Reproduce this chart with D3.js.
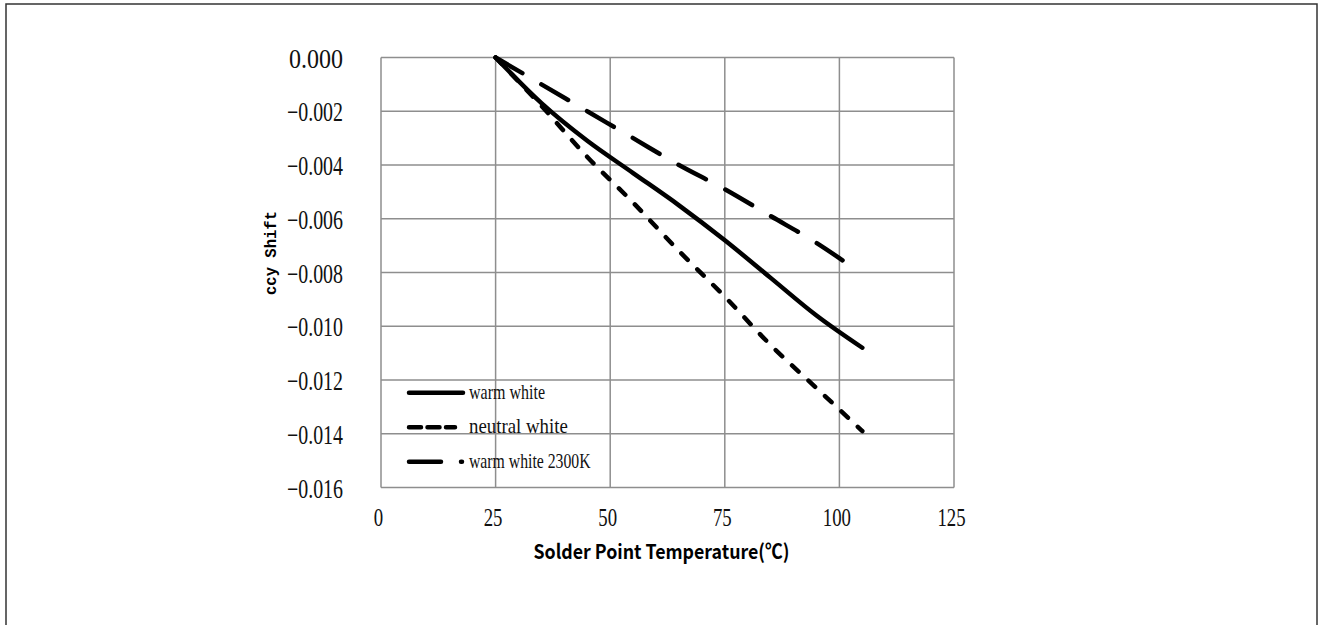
<!DOCTYPE html>
<html>
<head>
<meta charset="utf-8">
<script src="https://cdn.jsdelivr.net/npm/d3@7"></script>
<style>
  html, body { margin: 0; padding: 0; background: #fff; }
</style>
</head>
<body>
<div id="chart"></div>
<script>
// data
const xTicks = [0, 25, 50, 75, 100, 125]
const yTicks = [0, -0.002, -0.004, -0.006, -0.008, -0.010, -0.012, -0.014, -0.016]

const temps = [25, 35, 45, 55, 65, 75, 85, 95, 105]
const warmWhite = [0, -0.0017, -0.0031, -0.0043, -0.0055, -0.0068, -0.0082, -0.0096, -0.0108]
const neutralWhite = [0, -0.0018, -0.0037, -0.0054, -0.0072, -0.0089, -0.0107, -0.0123, -0.0139]
const temps2300 = [25, 35, 45, 55, 65, 75, 85, 95, 102]
const warmWhite2300 = [0, -0.0010, -0.0020, -0.0030, -0.0040, -0.0049, -0.0059, -0.0069, -0.0077]

const seriesNames = ["warm white", "neutral white", "warm white 2300K"]

const W = 1320, H = 625
const plot = {left: 381, right: 954, top: 57.5, bottom: 487.5}

const svg = d3.select("#chart").append("svg")
  .attr("width", W).attr("height", H)

// outer frame
svg.append("rect")
  .attr("x", 6).attr("y", 4).attr("width", 1311).attr("height", 700)
  .attr("fill", "none").attr("stroke", "#333").attr("stroke-width", 1.5)

const x = d3.scaleLinear().domain([0, 125]).range([plot.left, plot.right])
const y = d3.scaleLinear().domain([-0.016, 0]).range([plot.bottom, plot.top])

// grid
const grid = svg.append("g").attr("stroke", "#8e8e8e").attr("stroke-width", 1.5)
grid.selectAll(".gx").data(xTicks).join("line")
  .attr("x1", d => x(d)).attr("x2", d => x(d))
  .attr("y1", plot.top).attr("y2", plot.bottom)
grid.selectAll(".gy").data(yTicks).join("line")
  .attr("x1", plot.left).attr("x2", plot.right)
  .attr("y1", d => y(d)).attr("y2", d => y(d))

const fmtY = v => (v < 0 ? "\u2212" : "") + d3.format(".3f")(Math.abs(v))

// y axis labels
const yAxis = svg.append("g")
  .attr("transform", `translate(${plot.left},0)`)
  .call(d3.axisLeft(y).tickValues(yTicks).tickFormat(fmtY).tickSize(0).tickPadding(38))
yAxis.select(".domain").remove()
yAxis.selectAll("text")
  .attr("font-family", "'Liberation Serif', serif")
  .attr("font-size", 27)
  .attr("fill", "#111")
  .attr("dy", "0.36em")
  .attr("textLength", d => d < 0 ? 56 : 54)
  .attr("lengthAdjust", "spacingAndGlyphs")

// x axis labels
const xAxis = svg.append("g")
  .attr("transform", `translate(-3,${plot.bottom})`)
  .call(d3.axisBottom(x).tickValues(xTicks).tickFormat(d3.format("d")).tickSize(0).tickPadding(20))
xAxis.select(".domain").remove()
xAxis.selectAll("text")
  .attr("font-family", "'Liberation Serif', serif")
  .attr("font-size", 26)
  .attr("fill", "#111")
  .attr("textLength", d => String(d).length * 9.4)
  .attr("lengthAdjust", "spacingAndGlyphs")

// axis titles
svg.append("text")
  .attr("x", (plot.left + plot.right) / 2 - 6).attr("y", 559)
  .attr("text-anchor", "middle")
  .attr("font-family", "'Noto Sans CJK SC', 'Noto Sans', sans-serif")
  .attr("font-weight", "bold").attr("font-size", 20)
  .attr("textLength", 256).attr("lengthAdjust", "spacingAndGlyphs")
  .text("Solder Point Temperature(℃)")

svg.append("text")
  .attr("transform", "translate(276,253) rotate(-90)")
  .attr("text-anchor", "middle")
  .attr("font-family", "'Liberation Mono', monospace")
  .attr("font-weight", "bold").attr("font-size", 17)
  .attr("textLength", 84).attr("lengthAdjust", "spacingAndGlyphs")
  .text("ccy Shift")

// lines
const line = d3.line().x(d => x(d[0])).y(d => y(d[1])).curve(d3.curveMonotoneX)
const series = [
  {pts: d3.zip(temps, warmWhite), dash: null, legendDash: null, legendEnd: 463},
  {pts: d3.zip(temps, neutralWhite), dash: "9,13.5", legendDash: "12,6.5", legendEnd: 455},
  {pts: d3.zip(temps2300, warmWhite2300), dash: "31,22", legendDash: "32,20", legendEnd: 462}
]

svg.append("g").selectAll("path").data(series).join("path")
  .attr("d", d => line(d.pts))
  .attr("fill", "none").attr("stroke", "#000").attr("stroke-width", 4.5)
  .attr("stroke-linecap", "round")
  .attr("stroke-dasharray", d => d.dash)

// legend
const leg = svg.append("g").selectAll("g").data(series).join("g")
  .attr("transform", (d, i) => `translate(409,${392.7 + i * 34.5})`)
leg.append("line")
  .attr("x1", 0).attr("x2", d => d.legendEnd - 409)
  .attr("stroke", "#000").attr("stroke-width", 4.5).attr("stroke-linecap", "round")
  .attr("stroke-dasharray", d => d.legendDash)
leg.append("text")
  .attr("x", 60).attr("y", 6)
  .attr("font-family", "'Liberation Serif', serif")
  .attr("font-size", 21).attr("fill", "#111")
  .attr("textLength", (d, i) => seriesNames[i].length * 7.6)
  .attr("lengthAdjust", "spacingAndGlyphs")
  .text((d, i) => seriesNames[i])
</script>
</body>
</html>
